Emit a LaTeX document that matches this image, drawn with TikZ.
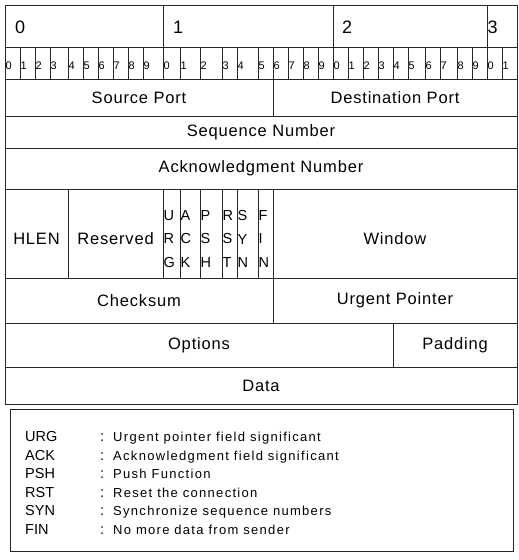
\documentclass[tikz,border=0pt]{standalone}
\usepackage{fontspec}
\setmainfont{Liberation Sans}
\newfontfamily\lblfam[LetterSpace=5]{Liberation Sans}
\newfontfamily\descfam[LetterSpace=10]{Liberation Sans}
\newcommand\fldcell[6]{\node[fld, minimum width={(#4)-(#2)}, minimum height={(#5)-(#3)}] (#1) at ({((#2)+(#4))/2},{((#3)+(#5))/2}) {#6};}
\begin{document}
\begin{tikzpicture}[x=1pt,y=-1pt,
  fld/.style={draw=black!85, line width=0.8pt, rectangle, inner sep=0pt, font=\lblfam\fontsize{16.5}{19}\selectfont},
  lbl/.style={inner sep=0pt, font=\lblfam\fontsize{16.5}{19}\selectfont},
  decade/.style={anchor=west, inner sep=0pt, font=\fontsize{18}{18}\selectfont},
  digit/.style={anchor=west, inner sep=0pt, font=\fontsize{11}{11}\selectfont},
  flag/.style={anchor=west, inner sep=0.5pt, align=left, font=\fontsize{14.5}{23.5}\selectfont},
  abbr/.style={anchor=base west, inner sep=0pt, font=\fontsize{14.5}{14}\selectfont},
  desc/.style={anchor=base west, inner sep=0pt, font=\descfam\fontsize{13}{14}\selectfont}]
\useasboundingbox (0,0) rectangle (519,560);
% decade row
\fldcell{d0}{5}{5}{163}{47}{}
\fldcell{d1}{163}{5}{333}{47}{}
\fldcell{d2}{333}{5}{487}{47}{}
\fldcell{d3}{487}{5}{517}{47}{}
\node[decade] (t0) at (15,27) {0};
\node[decade] (t1) at (173,27) {1};
\node[decade] (t2) at (342,27) {2};
\node[decade] (t3) at (487.5,27) {3};
% bit row
\foreach \a/\b/\d [count=\i] in {5/20/0,20/35/1,35/50/2,50/68/3,68/83/4,83/98/5,98/113/6,113/128/7,128/143/8,143/163/9,
  163/180/0,180/200/1,200/222/2,222/237/3,237/258/4,258/273/5,273/288/6,288/303/7,303/318/8,318/333/9,
  333/348/0,348/363/1,363/378/2,378/393/3,393/408/4,408/425/5,425/440/6,440/457/7,457/472/8,472/487/9,
  487/502/0,502/517/1}{
  \fldcell{b\i}{\a}{47}{\b}{79}{}
  \node[digit] (n\i) at (\a+0.3,66) {\d};
}
% header fields
\fldcell{sport}{5}{79}{273}{116}{Source Port}
\fldcell{dport}{273}{79}{517}{116}{Destination Port}
\fldcell{seq}{5}{116}{517}{148}{Sequence Number}
\fldcell{ack}{5}{148}{517}{189}{Acknowledgment Number}
\fldcell{hlen}{5}{189}{68}{278}{}
\fldcell{resv}{68}{189}{163}{278}{}
\fldcell{furg}{163}{189}{180}{278}{}
\fldcell{fack}{180}{189}{200}{278}{}
\fldcell{fpsh}{200}{189}{222}{278}{}
\fldcell{frst}{222}{189}{237}{278}{}
\fldcell{fsyn}{237}{189}{258}{278}{}
\fldcell{ffin}{258}{189}{273}{278}{}
\fldcell{win}{273}{189}{517}{278}{}
\node[lbl] (lhlen) at (36.5,239) {HLEN};
\node[lbl] (lresv) at (115.5,239) {Reserved};
\node[lbl] (lwin) at (395,239) {Window};
\node[flag] (lurg) at (163,239) {U\\R\\G};
\node[flag] (lack) at (180,239) {A\\C\\K};
\node[flag] (lpsh) at (200,239) {P\\S\\H};
\node[flag] (lrst) at (222,239) {R\\S\\T};
\node[flag] (lsyn) at (237,239) {S\\Y\\N};
\node[flag] (lfin) at (258,239) {F\\I\\N};
\fldcell{csum}{5}{278}{273}{323}{Checksum}
\fldcell{uptr}{273}{278}{517}{323}{Urgent Pointer}
\fldcell{opts}{5}{323}{393}{367}{Options}
\fldcell{pad}{393}{323}{517}{367}{Padding}
\fldcell{data}{5}{367}{517}{404}{Data}
% legend
\fldcell{legend}{10}{409}{513}{551}{}
\foreach \y/\ab/\ds [count=\k] in {441/URG/Urgent pointer field significant,
  460/ACK/Acknowledgment field significant,
  478/PSH/Push Function,
  497/RST/Reset the connection,
  515/SYN/Synchronize sequence numbers,
  534/FIN/No more data from sender}{
  \node[abbr] (a\k) at (25,\y) {\ab};
  \node[abbr] (c\k) at (100,\y) {:};
  \node[desc] (e\k) at (113,\y) {\ds};
}
\end{tikzpicture}
\end{document}
